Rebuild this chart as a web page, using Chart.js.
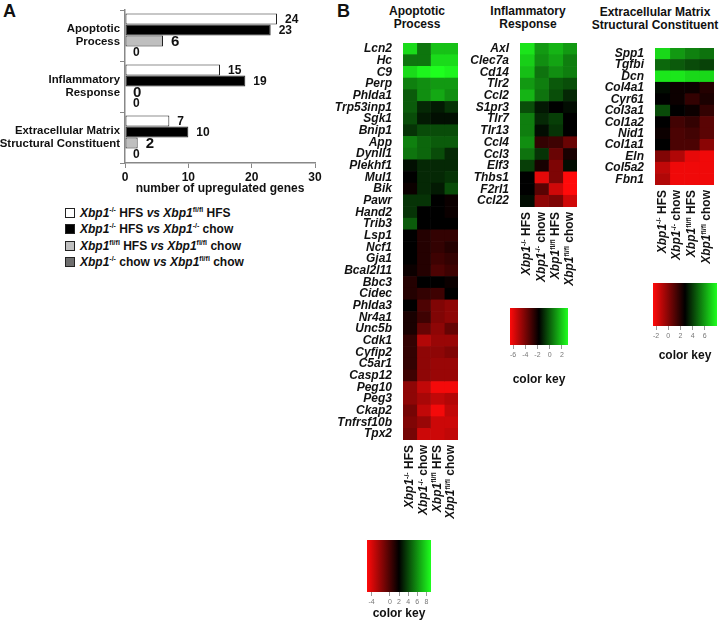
<!DOCTYPE html>
<html>
<head>
<meta charset="utf-8">
<script src="https://cdn.jsdelivr.net/npm/chart.js@4"></script>
<style>
  body { margin: 0; background: #fff; font-family: Arial, "Liberation Sans", sans-serif; color: #111; }
  #page { position: relative; width: 720px; height: 626px; overflow: hidden; }
  canvas, .txt { position: absolute; }
  .panel { font-size: 18px; font-weight: bold; }
  .title { font-size: 12px; font-weight: bold; line-height: 13px; text-align: center; width: 140px; white-space: nowrap; }
  .legend { left: 65px; top: 205px; font-size: 12px; font-weight: bold; }
  .legend div { height: 16.3px; line-height: 16.3px; white-space: nowrap; }
  .legend sup { font-size: 7px; line-height: 0; vertical-align: 5px; }
  .sw { display: inline-block; width: 8px; height: 8px; border: 1px solid #222; margin-right: 5px; vertical-align: -1px; }
</style>
</head>
<body>
<div id="page">
  <div class="txt panel" style="left:3px;top:1px">A</div>
  <div class="txt panel" style="left:337px;top:1px">B</div>

  <canvas id="barChart" width="330" height="200" style="left:0;top:0"></canvas>

  <div class="txt legend">
    <div><span class="sw" style="background:#fff"></span><i>Xbp1</i><sup>-/-</sup> HFS <i>vs</i> <i>Xbp1</i><sup>fl/fl</sup> HFS</div>
    <div><span class="sw" style="background:#000"></span><i>Xbp1</i><sup>-/-</sup> HFS <i>vs</i> <i>Xbp1</i><sup>-/-</sup> chow</div>
    <div><span class="sw" style="background:#bfbfbf"></span><i>Xbp1</i><sup>fl/fl</sup> HFS <i>vs</i> <i>Xbp1</i><sup>fl/fl</sup> chow</div>
    <div><span class="sw" style="background:#6e6e6e"></span><i>Xbp1</i><sup>-/-</sup> chow <i>vs</i> <i>Xbp1</i><sup>fl/fl</sup> chow</div>
  </div>

  <div class="txt title" style="left:347px;top:5px">Apoptotic<br>Process</div>
  <div class="txt title" style="left:458px;top:5px">Inflammatory<br>Response</div>
  <div class="txt title" style="left:585px;top:6px">Extracellular Matrix<br>Structural Constituent</div>

  <canvas id="apoHeat" width="135" height="485" style="left:330px;top:40px"></canvas>
  <canvas id="infHeat" width="120" height="260" style="left:465px;top:40px"></canvas>
  <canvas id="ecmHeat" width="125" height="230" style="left:595px;top:40px"></canvas>

  <canvas id="apoKey" width="80" height="90" style="left:360px;top:535px"></canvas>
  <canvas id="infKey" width="80" height="88" style="left:500px;top:303px"></canvas>
  <canvas id="ecmKey" width="75" height="89" style="left:645px;top:278px"></canvas>
</div>

<script>
// panel A data
const barCategories = [['Apoptotic', 'Process'], ['Inflammatory', 'Response'], ['Extracellular Matrix', 'Structural Constituent']];
const koHfsVsFlHfs = [24, 15, 7];
const koHfsVsKoChow = [23, 19, 10];
const flHfsVsFlChow = [6, 0, 2];
const koChowVsFlChow = [0, 0, 0];
const barTicks = [0, 10, 20, 30];

// heatmap columns
const columnGenotypes = ['-/-', '-/-', 'fl/fl', 'fl/fl'];
const columnDiets = ['HFS', 'chow', 'HFS', 'chow'];

// apoptotic process
const apoGenes = ['Lcn2', 'Hc', 'C9', 'Perp', 'Phlda1', 'Trp53inp1', 'Sgk1', 'Bnip1', 'App', 'Dynll1', 'Plekhf1', 'Mul1', 'Bik', 'Pawr', 'Hand2', 'Trib3', 'Lsp1', 'Ncf1', 'Gja1', 'Bcal2l11', 'Bbc3', 'Cidec', 'Phlda3', 'Nr4a1', 'Unc5b', 'Cdk1', 'Cyfip2', 'C5ar1', 'Casp12', 'Peg10', 'Peg3', 'Ckap2', 'Tnfrsf10b', 'Tpx2'];
const apoKoHfs = [8.0, 5.2, 8.0, 5.5, 4.5, 4.5, 4.1, 3.4, 5.5, 5.2, 2.4, 2.0, 1.7, 3.4, 3.4, 4.5, 2.0, 2.0, 2.0, 1.7, 1.0, 1.0, 2.0, 1.3, 1.3, 0.6, 0.6, 0.6, 0.3, -1.9, -1.9, -1.2, -1.5, -1.2];
const apoKoChow = [5.2, 5.2, 8.7, 5.9, 5.9, 3.1, 2.7, 4.1, 4.8, 4.8, 3.1, 3.1, 3.1, 3.4, 2.0, 2.0, 1.0, 1.0, 1.0, 1.0, 2.0, 0.6, -0.1, 0.3, -0.8, -2.9, -1.9, -1.9, -1.9, -3.3, -2.6, -3.3, -2.2, -3.6];
const apoFlHfs = [7.3, 8.0, 9.0, 6.2, 6.6, 2.7, 2.4, 4.1, 4.5, 4.1, 3.1, 3.1, 2.7, 2.0, 2.0, 2.0, 0.6, 0.6, 0.3, -0.1, 2.0, 0.3, -1.5, -1.5, -1.9, -2.2, -1.9, -2.2, -2.2, -4.7, -3.3, -4.7, -3.6, -3.6];
const apoFlChow = [7.3, 8.0, 8.7, 6.2, 5.9, 3.4, 2.4, 4.1, 4.5, 3.1, 3.1, 3.4, 4.1, 1.7, 1.7, 2.0, 0.6, 1.0, 0.6, 0.3, 1.7, 2.0, -1.9, -1.9, -0.8, -2.2, -1.5, -2.2, -2.2, -4.7, -2.9, -3.3, -3.6, -3.3];
const apoKeyTicks = [-4, 0, 2, 4, 6, 8];

// inflammatory response
const infGenes = ['Axl', 'Clec7a', 'Cd14', 'Tlr2', 'Ccl2', 'S1pr3', 'Tlr7', 'Tlr13', 'Ccl4', 'Ccl3', 'Elf3', 'Thbs1', 'F2rl1', 'Ccl22'];
const infKoHfs = [2.5, 2.1, 1.8, 1.1, 1.6, -0.3, 0.6, 0.6, 0.9, 0.4, -0.6, -1.75, -1.75, -1.5];
const infKoChow = [1.1, 0.9, 0.4, 0.6, 0.4, -1.3, -1.0, -1.5, -2.7, -0.8, -2.2, -6.0, -3.4, -4.4];
const infFlHfs = [1.6, 1.3, 0.9, -0.1, -0.3, -1.75, -0.6, -0.8, -2.9, -3.7, -4.1, -4.1, -5.6, -4.1];
const infFlChow = [1.1, 0.6, 0.6, -0.3, -1.0, -1.5, -1.75, -1.75, -3.7, -2.2, -1.5, -6.5, -6.5, -5.6];
const infKeyTicks = [-6, -4, -2, 0, 2];

// extracellular matrix structural constituent
const ecmGenes = ['Spp1', 'Tgfbi', 'Dcn', 'Col4a1', 'Cyr61', 'Col3a1', 'Col1a2', 'Nid1', 'Col1a1', 'Eln', 'Col5a2', 'Fbn1'];
const ecmKoHfs = [7.2, 4.9, 7.5, 3.0, 2.75, 4.3, 2.75, 2.5, 2.75, 0.1, -1.2, -0.9];
const ecmKoChow = [5.9, 4.6, 7.5, 2.5, 2.5, 2.75, 1.4, 1.2, 1.2, -0.9, -2.2, -2.2];
const ecmFlHfs = [5.4, 4.3, 7.2, 2.5, 1.7, 2.5, 1.7, 1.4, 1.2, -2.0, -2.2, -2.2];
const ecmFlChow = [5.1, 4.1, 7.2, 2.0, 2.2, 1.7, 0.9, 0.9, -0.1, -2.2, -2.2, -2.2];
const ecmKeyTicks = [-2, 0, 2, 4, 6];

const FONT = 'Arial, "Liberation Sans", sans-serif';
Chart.defaults.font.family = FONT;
Chart.defaults.color = '#111';

// colour scale: red -> black -> green
function cellColor(v, key) {
    if (v >= key.mid) {
        const s = Math.min(1, (v - key.mid) / (key.max - key.mid));
        return `rgb(${Math.round(30 * s)},${Math.round(255 * s)},${Math.round(30 * s)})`;
    }
    const s = Math.min(1, (key.mid - v) / (key.mid - key.min));
    return `rgb(${Math.round(255 * s)},${Math.round(10 * s)},${Math.round(10 * s)})`;
}

// text with italic gene name + superscript genotype, right-aligned at x
function drawRich(ctx, segs, x, y) {
    let total = 0;
    segs.forEach(s => { ctx.font = s.font; s.w = ctx.measureText(s.text).width; total += s.w; });
    let cx = x - total;
    ctx.textAlign = 'left';
    ctx.textBaseline = 'middle';
    segs.forEach(s => {
        ctx.font = s.font;
        ctx.fillText(s.text, cx, y + (s.dy || 0));
        cx += s.w;
    });
}

// labels keep to the band, no extra edge padding
function noEdgePad(s) {
    s.paddingTop = 0;
    s.paddingBottom = 0;
}

// ---- panel A ----
const valueLabels = {
    id: 'valueLabels',
    afterDatasetsDraw(chart) {
        const ctx = chart.ctx;
        ctx.save();
        ctx.fillStyle = '#111';
        ctx.textAlign = 'left';
        ctx.textBaseline = 'middle';
        chart.data.datasets.forEach((ds, i) => {
            ctx.font = `bold ${ds.labelSize}px ${FONT}`;
            chart.getDatasetMeta(i).data.forEach((bar, j) => {
                ctx.fillText(ds.data[j], bar.x + 8, bar.y + 1);
            });
        });
        ctx.restore();
    }
};

function barSet(data, color, labelSize) {
    return {
        data, backgroundColor: color, borderColor: '#222', borderWidth: 1, borderSkipped: false,
        barPercentage: 1, categoryPercentage: 0.86, labelSize
    };
}

new Chart(document.getElementById('barChart'), {
    type: 'bar',
    data: {
        labels: barCategories,
        datasets: [
            barSet(koHfsVsFlHfs, '#ffffff', 12),
            barSet(koHfsVsKoChow, '#000000', 12),
            barSet(flHfsVsFlChow, '#bfbfbf', 15),
            barSet(koChowVsFlChow, '#6e6e6e', 12)
        ]
    },
    options: {
        indexAxis: 'y',
        responsive: false,
        animation: false,
        layout: { padding: { top: 10, right: 15 } },
        plugins: { legend: { display: false }, tooltip: { enabled: false } },
        scales: {
            x: {
                min: 0, max: 30,
                afterBuildTicks: s => { s.ticks = barTicks.map(v => ({ value: v })); },
                grid: { drawOnChartArea: false, tickLength: 5, color: '#888' },
                border: { color: '#888', width: 1.5 },
                ticks: { font: { size: 12, weight: 'bold' }, color: '#111', padding: 2 },
                title: { display: true, text: 'number of upregulated genes', font: { size: 12, weight: 'bold' }, color: '#111', padding: { top: 2, bottom: 4 } },
                afterFit: s => { s.height = 37; }
            },
            y: {
                grid: { drawOnChartArea: false, tickLength: 5, color: '#888', offset: true },
                border: { color: '#888', width: 1.5 },
                ticks: { font: { size: 11.4, weight: 'bold', lineHeight: 1.2 }, color: '#111', padding: 0 },
                afterFit: s => { s.width = 125; noEdgePad(s); }
            }
        }
    },
    plugins: [valueLabels]
});

// ---- panel B heatmaps ----
const colLabels = {
    id: 'colLabels',
    afterDraw(chart) {
        const ctx = chart.ctx, x = chart.scales.x, area = chart.chartArea;
        ctx.save();
        ctx.fillStyle = '#111';
        columnGenotypes.forEach((g, i) => {
            ctx.save();
            ctx.translate(x.getPixelForValue(i + 0.5), area.bottom + 5);
            ctx.rotate(-Math.PI / 2);
            drawRich(ctx, [
                { text: 'Xbp1', font: `italic bold 12px ${FONT}` },
                { text: g, font: `bold 7px ${FONT}`, dy: -3 },
                { text: ' ' + columnDiets[i], font: `bold 12px ${FONT}` }
            ], 0, 0);
            ctx.restore();
        });
        ctx.restore();
    }
};

function drawHeatmap(id, genes, columns, key, axisWidth, padding) {
    new Chart(document.getElementById(id), {
        type: 'bar',
        data: {
            labels: genes,
            datasets: columns.map(col => ({
                data: col.map(() => 1),
                backgroundColor: col.map(v => cellColor(v, key)),
                borderWidth: 0,
                barPercentage: 1,
                categoryPercentage: 1
            }))
        },
        options: {
            indexAxis: 'y',
            responsive: false,
            animation: false,
            layout: { padding },
            plugins: { legend: { display: false }, tooltip: { enabled: false } },
            scales: {
                x: { type: 'linear', min: 0, max: 4, stacked: true, display: false },
                y: {
                    stacked: true,
                    grid: { display: false },
                    border: { display: false },
                    ticks: { autoSkip: false, padding: 3, color: '#111', font: { size: 12, weight: 'bold', style: 'italic' } },
                    afterFit: s => { s.width = axisWidth; noEdgePad(s); }
                }
            }
        },
        plugins: [colLabels]
    });
}

// ---- colour keys ----
function drawKey(id, key, ticks, axisHeight, padding) {
    new Chart(document.getElementById(id), {
        type: 'bar',
        data: {
            labels: [''],
            datasets: [{
                data: [[key.min, key.max]],
                barPercentage: 1,
                categoryPercentage: 1,
                borderWidth: 0,
                backgroundColor: c => {
                    const chart = c.chart;
                    if (!chart.chartArea) return '#000';
                    const x = chart.scales.x;
                    const g = chart.ctx.createLinearGradient(x.getPixelForValue(key.min), 0, x.getPixelForValue(key.max), 0);
                    g.addColorStop(0, cellColor(key.min, key));
                    g.addColorStop((key.mid - key.min) / (key.max - key.min), '#000');
                    g.addColorStop(1, cellColor(key.max, key));
                    return g;
                }
            }]
        },
        options: {
            indexAxis: 'y',
            responsive: false,
            animation: false,
            layout: { padding },
            plugins: { legend: { display: false }, tooltip: { enabled: false } },
            scales: {
                x: {
                    type: 'linear', min: key.min, max: key.max,
                    afterBuildTicks: s => { s.ticks = ticks.map(v => ({ value: v })); },
                    grid: { drawOnChartArea: false, tickLength: 4, color: '#999' },
                    border: { display: false },
                    ticks: { font: { size: 7 }, color: '#777', padding: 2, maxRotation: 0 },
                    title: { display: true, text: 'color key', font: { size: 12, weight: 'bold' }, color: '#111', padding: { top: 2, bottom: 4 } },
                    afterFit: s => { s.height = axisHeight; }
                },
                y: { display: false }
            }
        }
    });
}

const apoKey = { min: -5, mid: 2, max: 9 };
const infKey = { min: -6.5, mid: -1.75, max: 3 };
const ecmKey = { min: -2.5, mid: 2.75, max: 8 };

drawHeatmap('apoHeat', apoGenes, [apoKoHfs, apoKoChow, apoFlHfs, apoFlChow], apoKey, 73, { top: 3, right: 7, bottom: 85 });
drawHeatmap('infHeat', infGenes, [infKoHfs, infKoChow, infFlHfs, infFlChow], infKey, 55, { top: 3, right: 8, bottom: 93 });
drawHeatmap('ecmHeat', ecmGenes, [ecmKoHfs, ecmKoChow, ecmFlHfs, ecmFlChow], ecmKey, 60, { top: 8, right: 6, bottom: 85 });

drawKey('apoKey', apoKey, apoKeyTicks, 33, { top: 5, left: 7, right: 9, bottom: 0 });
drawKey('infKey', infKey, infKeyTicks, 46, { top: 5, left: 10, right: 12, bottom: 0 });
drawKey('ecmKey', ecmKey, ecmKeyTicks, 41, { top: 5, left: 8, right: 3, bottom: 0 });
</script>
</body>
</html>
